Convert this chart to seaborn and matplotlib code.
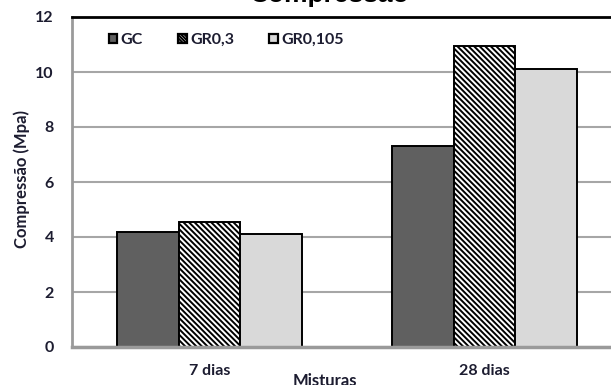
import matplotlib
matplotlib.use("Agg")
import matplotlib.pyplot as plt
from matplotlib.patches import Patch
import seaborn as sns
import pandas as pd

# ---- data ----
categories = ["7 dias", "28 dias"]
series = ["GC", "GR0,3", "GR0,105"]
gc_values = [4.2, 7.3]
gr03_values = [4.55, 10.95]
gr0105_values = [4.1, 10.1]
y_ticks = [0, 2, 4, 6, 8, 10, 12]
title = "Compressão"
y_label = "Compressão (Mpa)"
x_label = "Misturas"

colors = {"GC": "#606060", "GR0,3": "#ffffff", "GR0,105": "#d9d9d9"}
hatches = {"GC": "", "GR0,3": "\\" * 6, "GR0,105": ""}

rows = []
for s, vals in zip(series, [gc_values, gr03_values, gr0105_values]):
    for c, v in zip(categories, vals):
        rows.append({"Mistura": c, "Serie": s, "Valor": v})
df = pd.DataFrame(rows)

sns.set_style("white")
plt.rcParams["font.family"] = ["Lato", "DejaVu Sans"]
plt.rcParams["hatch.linewidth"] = 1.4
txt_color = "#1c1c30"

fig = plt.figure(figsize=(6.11, 3.85), dpi=100)
ax = fig.add_axes([72 / 611, 38 / 385, 550 / 611, 330 / 385])

sns.barplot(data=df, x="Mistura", y="Valor", hue="Serie", order=categories,
            hue_order=series, palette=colors, width=0.67, gap=0,
            edgecolor="black", linewidth=1.4, saturation=1, ax=ax,
            legend=False, errorbar=None)

# apply hatches per series
for container, s in zip(ax.containers, series):
    for bar in container:
        bar.set_hatch(hatches[s])
        bar.set_edgecolor("black")

ax.set_xlim(-0.5, 1.5)
ax.set_ylim(0, 12)
ax.set_yticks(y_ticks)
ax.yaxis.grid(True, color="#a6a6a6", linewidth=1.5)
ax.set_axisbelow(True)

for side in ["left", "bottom"]:
    ax.spines[side].set_visible(True)
    ax.spines[side].set_color("#9a9a9a")
ax.spines["left"].set_linewidth(2)
ax.spines["bottom"].set_linewidth(2.5)
ax.spines["top"].set_color("black")
ax.spines["top"].set_linewidth(2)
ax.spines["right"].set_visible(False)

ax.tick_params(axis="y", which="major", direction="out", length=5, width=1.5,
               color="#9a9a9a", pad=8, labelsize=11.5, labelcolor=txt_color)
ax.tick_params(axis="x", length=0, pad=12, labelsize=11.5, labelcolor=txt_color)
for lab in ax.get_yticklabels() + ax.get_xticklabels():
    lab.set_fontweight("bold")

ax.set_ylabel(y_label, fontsize=12, fontweight="bold", color=txt_color)
ax.yaxis.set_label_coords(-0.076, 0.51)
ax.set_xlabel(x_label, fontsize=12, fontweight="bold", color=txt_color)
ax.xaxis.set_label_coords(0.46, -0.078)

fig.text(330 / 611, 1 - 2 / 385, title, ha="center", va="baseline",
         fontsize=19, fontweight="bold", family=["Liberation Sans", "DejaVu Sans"],
         color="black")

handles = [Patch(facecolor=colors[s], edgecolor="black",
                 hatch=("\\" * 10 if hatches[s] else ""),
                 linewidth=1.6, label=s) for s in series]
leg = ax.legend(handles=handles, ncol=3, loc="upper left",
                bbox_to_anchor=(0.055, 0.97), frameon=False,
                handlelength=0.55, handleheight=0.55, handletextpad=0.2,
                columnspacing=2.2, borderaxespad=0,
                prop={"size": 11.5, "weight": "bold"})
for t in leg.get_texts():
    t.set_color(txt_color)

fig.savefig("out.png", dpi=100)
